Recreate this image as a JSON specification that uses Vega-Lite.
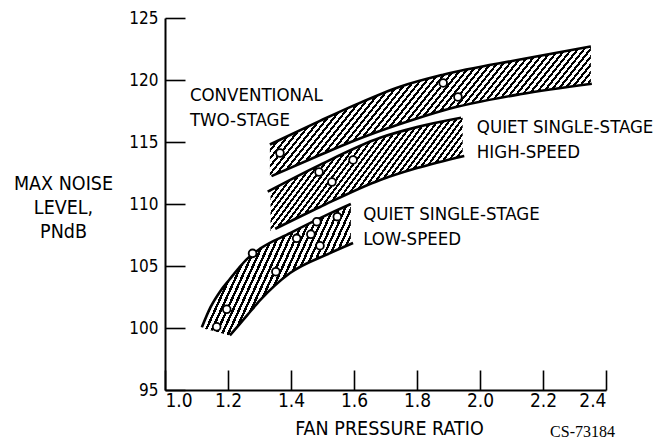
{
"$schema":"https://vega.github.io/schema/vega-lite/v6.json",
"width":441,"height":372,
"autosize":"none",
"padding":{"left":165,"top":18,"right":55,"bottom":54},
"background":"white",
"config":{"view":{"stroke":null},"font":"DejaVu Sans Condensed",
"axis":{"grid":false,"domainColor":"#000","domainWidth":2,"tickColor":"#000","tickWidth":1.6,"tickSize":-20,"labelColor":"#000","titleColor":"#000","labelFont":"DejaVu Sans Condensed","titleFont":"DejaVu Sans Condensed","titleFontWeight":"normal"}},
"params":[{"name":"hatch","value":{"gradient":"linear","x1":0,"y1":0,"x2":1,"y2":0,"stops":[
{"offset":0,"color":"#000"},{"offset":0.0065,"color":"#000"},{"offset":0.0065,"color":"#fff"},{"offset":0.015,"color":"#fff"},
{"offset":0.015,"color":"#000"},{"offset":0.0215,"color":"#000"},{"offset":0.0215,"color":"#fff"},{"offset":0.03,"color":"#fff"},
{"offset":0.03,"color":"#000"},{"offset":0.0365,"color":"#000"},{"offset":0.0365,"color":"#fff"},{"offset":0.045,"color":"#fff"},
{"offset":0.045,"color":"#000"},{"offset":0.0515,"color":"#000"},{"offset":0.0515,"color":"#fff"},{"offset":0.06,"color":"#fff"},
{"offset":0.06,"color":"#000"},{"offset":0.0665,"color":"#000"},{"offset":0.0665,"color":"#fff"},{"offset":0.075,"color":"#fff"},
{"offset":0.075,"color":"#000"},{"offset":0.0815,"color":"#000"},{"offset":0.0815,"color":"#fff"},{"offset":0.09,"color":"#fff"},
{"offset":0.09,"color":"#000"},{"offset":0.0965,"color":"#000"},{"offset":0.0965,"color":"#fff"},{"offset":0.105,"color":"#fff"},
{"offset":0.105,"color":"#000"},{"offset":0.1115,"color":"#000"},{"offset":0.1115,"color":"#fff"},{"offset":0.12,"color":"#fff"},
{"offset":0.12,"color":"#000"},{"offset":0.1265,"color":"#000"},{"offset":0.1265,"color":"#fff"},{"offset":0.135,"color":"#fff"},
{"offset":0.135,"color":"#000"},{"offset":0.1415,"color":"#000"},{"offset":0.1415,"color":"#fff"},{"offset":0.15,"color":"#fff"},
{"offset":0.15,"color":"#000"},{"offset":0.1565,"color":"#000"},{"offset":0.1565,"color":"#fff"},{"offset":0.165,"color":"#fff"},
{"offset":0.165,"color":"#000"},{"offset":0.1715,"color":"#000"},{"offset":0.1715,"color":"#fff"},{"offset":0.18,"color":"#fff"},
{"offset":0.18,"color":"#000"},{"offset":0.1865,"color":"#000"},{"offset":0.1865,"color":"#fff"},{"offset":0.195,"color":"#fff"},
{"offset":0.195,"color":"#000"},{"offset":0.2015,"color":"#000"},{"offset":0.2015,"color":"#fff"},{"offset":0.21,"color":"#fff"},
{"offset":0.21,"color":"#000"},{"offset":0.2165,"color":"#000"},{"offset":0.2165,"color":"#fff"},{"offset":0.225,"color":"#fff"},
{"offset":0.225,"color":"#000"},{"offset":0.2315,"color":"#000"},{"offset":0.2315,"color":"#fff"},{"offset":0.24,"color":"#fff"},
{"offset":0.24,"color":"#000"},{"offset":0.2465,"color":"#000"},{"offset":0.2465,"color":"#fff"},{"offset":0.255,"color":"#fff"},
{"offset":0.255,"color":"#000"},{"offset":0.2615,"color":"#000"},{"offset":0.2615,"color":"#fff"},{"offset":0.27,"color":"#fff"},
{"offset":0.27,"color":"#000"},{"offset":0.2765,"color":"#000"},{"offset":0.2765,"color":"#fff"},{"offset":0.285,"color":"#fff"},
{"offset":0.285,"color":"#000"},{"offset":0.2915,"color":"#000"},{"offset":0.2915,"color":"#fff"},{"offset":0.3,"color":"#fff"},
{"offset":0.3,"color":"#000"},{"offset":0.3065,"color":"#000"},{"offset":0.3065,"color":"#fff"},{"offset":0.315,"color":"#fff"},
{"offset":0.315,"color":"#000"},{"offset":0.3215,"color":"#000"},{"offset":0.3215,"color":"#fff"},{"offset":0.33,"color":"#fff"},
{"offset":0.33,"color":"#000"},{"offset":0.3365,"color":"#000"},{"offset":0.3365,"color":"#fff"},{"offset":0.345,"color":"#fff"},
{"offset":0.345,"color":"#000"},{"offset":0.3515,"color":"#000"},{"offset":0.3515,"color":"#fff"},{"offset":0.36,"color":"#fff"},
{"offset":0.36,"color":"#000"},{"offset":0.3665,"color":"#000"},{"offset":0.3665,"color":"#fff"},{"offset":0.375,"color":"#fff"},
{"offset":0.375,"color":"#000"},{"offset":0.3815,"color":"#000"},{"offset":0.3815,"color":"#fff"},{"offset":0.39,"color":"#fff"},
{"offset":0.39,"color":"#000"},{"offset":0.3965,"color":"#000"},{"offset":0.3965,"color":"#fff"},{"offset":0.405,"color":"#fff"},
{"offset":0.405,"color":"#000"},{"offset":0.4115,"color":"#000"},{"offset":0.4115,"color":"#fff"},{"offset":0.42,"color":"#fff"},
{"offset":0.42,"color":"#000"},{"offset":0.4265,"color":"#000"},{"offset":0.4265,"color":"#fff"},{"offset":0.435,"color":"#fff"},
{"offset":0.435,"color":"#000"},{"offset":0.4415,"color":"#000"},{"offset":0.4415,"color":"#fff"},{"offset":0.45,"color":"#fff"},
{"offset":0.45,"color":"#000"},{"offset":0.4565,"color":"#000"},{"offset":0.4565,"color":"#fff"},{"offset":0.465,"color":"#fff"},
{"offset":0.465,"color":"#000"},{"offset":0.4715,"color":"#000"},{"offset":0.4715,"color":"#fff"},{"offset":0.48,"color":"#fff"},
{"offset":0.48,"color":"#000"},{"offset":0.4865,"color":"#000"},{"offset":0.4865,"color":"#fff"},{"offset":0.495,"color":"#fff"},
{"offset":0.495,"color":"#000"},{"offset":0.5015,"color":"#000"},{"offset":0.5015,"color":"#fff"},{"offset":0.51,"color":"#fff"},
{"offset":0.51,"color":"#000"},{"offset":0.5165,"color":"#000"},{"offset":0.5165,"color":"#fff"},{"offset":0.525,"color":"#fff"},
{"offset":0.525,"color":"#000"},{"offset":0.5315,"color":"#000"},{"offset":0.5315,"color":"#fff"},{"offset":0.54,"color":"#fff"},
{"offset":0.54,"color":"#000"},{"offset":0.5465,"color":"#000"},{"offset":0.5465,"color":"#fff"},{"offset":0.555,"color":"#fff"},
{"offset":0.555,"color":"#000"},{"offset":0.5615,"color":"#000"},{"offset":0.5615,"color":"#fff"},{"offset":0.57,"color":"#fff"},
{"offset":0.57,"color":"#000"},{"offset":0.5765,"color":"#000"},{"offset":0.5765,"color":"#fff"},{"offset":0.585,"color":"#fff"},
{"offset":0.585,"color":"#000"},{"offset":0.5915,"color":"#000"},{"offset":0.5915,"color":"#fff"},{"offset":0.6,"color":"#fff"},
{"offset":0.6,"color":"#000"},{"offset":0.6065,"color":"#000"},{"offset":0.6065,"color":"#fff"},{"offset":0.615,"color":"#fff"},
{"offset":0.615,"color":"#000"},{"offset":0.6215,"color":"#000"},{"offset":0.6215,"color":"#fff"},{"offset":0.63,"color":"#fff"},
{"offset":0.63,"color":"#000"},{"offset":0.6365,"color":"#000"},{"offset":0.6365,"color":"#fff"},{"offset":0.645,"color":"#fff"},
{"offset":0.645,"color":"#000"},{"offset":0.6515,"color":"#000"},{"offset":0.6515,"color":"#fff"},{"offset":0.66,"color":"#fff"},
{"offset":0.66,"color":"#000"},{"offset":0.6665,"color":"#000"},{"offset":0.6665,"color":"#fff"},{"offset":0.675,"color":"#fff"},
{"offset":0.675,"color":"#000"},{"offset":0.6815,"color":"#000"},{"offset":0.6815,"color":"#fff"},{"offset":0.69,"color":"#fff"},
{"offset":0.69,"color":"#000"},{"offset":0.6965,"color":"#000"},{"offset":0.6965,"color":"#fff"},{"offset":0.705,"color":"#fff"},
{"offset":0.705,"color":"#000"},{"offset":0.7115,"color":"#000"},{"offset":0.7115,"color":"#fff"},{"offset":0.72,"color":"#fff"},
{"offset":0.72,"color":"#000"},{"offset":0.7265,"color":"#000"},{"offset":0.7265,"color":"#fff"},{"offset":0.735,"color":"#fff"},
{"offset":0.735,"color":"#000"},{"offset":0.7415,"color":"#000"},{"offset":0.7415,"color":"#fff"},{"offset":0.75,"color":"#fff"},
{"offset":0.75,"color":"#000"},{"offset":0.7565,"color":"#000"},{"offset":0.7565,"color":"#fff"},{"offset":0.765,"color":"#fff"},
{"offset":0.765,"color":"#000"},{"offset":0.7715,"color":"#000"},{"offset":0.7715,"color":"#fff"},{"offset":0.78,"color":"#fff"},
{"offset":0.78,"color":"#000"},{"offset":0.7865,"color":"#000"},{"offset":0.7865,"color":"#fff"},{"offset":0.795,"color":"#fff"},
{"offset":0.795,"color":"#000"},{"offset":0.8015,"color":"#000"},{"offset":0.8015,"color":"#fff"},{"offset":0.81,"color":"#fff"},
{"offset":0.81,"color":"#000"},{"offset":0.8165,"color":"#000"},{"offset":0.8165,"color":"#fff"},{"offset":0.825,"color":"#fff"},
{"offset":0.825,"color":"#000"},{"offset":0.8315,"color":"#000"},{"offset":0.8315,"color":"#fff"},{"offset":0.84,"color":"#fff"},
{"offset":0.84,"color":"#000"},{"offset":0.8465,"color":"#000"},{"offset":0.8465,"color":"#fff"},{"offset":0.855,"color":"#fff"},
{"offset":0.855,"color":"#000"},{"offset":0.8615,"color":"#000"},{"offset":0.8615,"color":"#fff"},{"offset":0.87,"color":"#fff"},
{"offset":0.87,"color":"#000"},{"offset":0.8765,"color":"#000"},{"offset":0.8765,"color":"#fff"},{"offset":0.885,"color":"#fff"},
{"offset":0.885,"color":"#000"},{"offset":0.8915,"color":"#000"},{"offset":0.8915,"color":"#fff"},{"offset":0.9,"color":"#fff"},
{"offset":0.9,"color":"#000"},{"offset":0.9065,"color":"#000"},{"offset":0.9065,"color":"#fff"},{"offset":0.915,"color":"#fff"},
{"offset":0.915,"color":"#000"},{"offset":0.9215,"color":"#000"},{"offset":0.9215,"color":"#fff"},{"offset":0.93,"color":"#fff"},
{"offset":0.93,"color":"#000"},{"offset":0.9365,"color":"#000"},{"offset":0.9365,"color":"#fff"},{"offset":1,"color":"#fff"}
]}}],
"title":{"text":"CS-73184","orient":"bottom","anchor":"end","frame":"group","font":"Liberation Serif","fontSize":16,"fontWeight":"normal","color":"#000","offset":-14,"dx":9},
"datasets":{
"bands":[
{"b":"conv","x":1.333,"lo":112.2,"hi":114.8},{"b":"conv","x":1.492,"lo":113.95,"hi":116.7},{"b":"conv","x":1.6,"lo":115.1,"hi":117.95},{"b":"conv","x":1.746,"lo":116.45,"hi":119.46},{"b":"conv","x":1.883,"lo":117.55,"hi":120.43},{"b":"conv","x":2.127,"lo":118.85,"hi":121.65},{"b":"conv","x":2.352,"lo":119.7,"hi":122.7},
{"b":"high","x":1.335,"lo":107.8,"hi":111.1},{"b":"high","x":1.492,"lo":109.76,"hi":113.16},{"b":"high","x":1.683,"lo":111.94,"hi":115.34},{"b":"high","x":1.8,"lo":112.9,"hi":116.2},{"b":"high","x":1.945,"lo":113.85,"hi":116.95},
{"b":"low","x":1.117,"lo":100.0,"hi":100.06},{"b":"low","x":1.145,"lo":99.81,"hi":101.7},{"b":"low","x":1.175,"lo":99.62,"hi":102.95},{"b":"low","x":1.206,"lo":99.41,"hi":103.95},{"b":"low","x":1.235,"lo":100.26,"hi":104.85},{"b":"low","x":1.26,"lo":101.0,"hi":105.55},{"b":"low","x":1.302,"lo":102.24,"hi":106.4},{"b":"low","x":1.397,"lo":104.43,"hi":107.65},{"b":"low","x":1.524,"lo":106.04,"hi":109.24},{"b":"low","x":1.59,"lo":106.78,"hi":110.0}
],
"edges":[
{"b":"conv","s":"hi","x":1.333,"y":114.8},{"b":"conv","s":"hi","x":1.492,"y":116.7},{"b":"conv","s":"hi","x":1.6,"y":117.95},{"b":"conv","s":"hi","x":1.746,"y":119.46},{"b":"conv","s":"hi","x":1.883,"y":120.43},{"b":"conv","s":"hi","x":2.127,"y":121.65},{"b":"conv","s":"hi","x":2.352,"y":122.7},
{"b":"conv","s":"lo","x":1.338,"y":112.25},{"b":"conv","s":"lo","x":1.492,"y":113.95},{"b":"conv","s":"lo","x":1.6,"y":115.1},{"b":"conv","s":"lo","x":1.746,"y":116.45},{"b":"conv","s":"lo","x":1.883,"y":117.55},{"b":"conv","s":"lo","x":2.127,"y":118.85},{"b":"conv","s":"lo","x":2.355,"y":119.7},
{"b":"high","s":"hi","x":1.326,"y":111.0},{"b":"high","s":"hi","x":1.492,"y":113.16},{"b":"high","s":"hi","x":1.683,"y":115.34},{"b":"high","s":"hi","x":1.8,"y":116.2},{"b":"high","s":"hi","x":1.94,"y":116.95},
{"b":"high","s":"lo","x":1.35,"y":108.0},{"b":"high","s":"lo","x":1.492,"y":109.76},{"b":"high","s":"lo","x":1.683,"y":111.94},{"b":"high","s":"lo","x":1.8,"y":112.9},{"b":"high","s":"lo","x":1.95,"y":113.88},
{"b":"low","s":"hi","x":1.117,"y":100.06},{"b":"low","s":"hi","x":1.145,"y":101.7},{"b":"low","s":"hi","x":1.175,"y":102.95},{"b":"low","s":"hi","x":1.206,"y":103.95},{"b":"low","s":"hi","x":1.235,"y":104.85},{"b":"low","s":"hi","x":1.26,"y":105.55},{"b":"low","s":"hi","x":1.302,"y":106.4},{"b":"low","s":"hi","x":1.397,"y":107.65},{"b":"low","s":"hi","x":1.524,"y":109.24},{"b":"low","s":"hi","x":1.59,"y":110.0},
{"b":"low","s":"lo","x":1.206,"y":99.41},{"b":"low","s":"lo","x":1.235,"y":100.26},{"b":"low","s":"lo","x":1.26,"y":101.0},{"b":"low","s":"lo","x":1.302,"y":102.24},{"b":"low","s":"lo","x":1.397,"y":104.43},{"b":"low","s":"lo","x":1.524,"y":106.04},{"b":"low","s":"lo","x":1.597,"y":106.85}
],
"points":[
{"x":1.365,"y":114.11},{"x":1.883,"y":119.76},{"x":1.93,"y":118.63},
{"x":1.489,"y":112.58},{"x":1.53,"y":111.77},{"x":1.597,"y":113.55},
{"x":1.164,"y":100.1},{"x":1.196,"y":101.51},{"x":1.278,"y":106.02},{"x":1.352,"y":104.54},{"x":1.418,"y":107.23},{"x":1.482,"y":108.57},{"x":1.463,"y":107.56},{"x":1.492,"y":106.64},{"x":1.547,"y":108.98}
],
"labels":[
{"x":1.079,"y":119.5,"t":"CONVENTIONAL\nTWO-STAGE"},
{"x":1.99,"y":116.9,"t":"QUIET SINGLE-STAGE\nHIGH-SPEED"},
{"x":1.629,"y":109.9,"t":"QUIET SINGLE-STAGE\nLOW-SPEED"}
]
},
"layer":[
{"data":{"name":"bands"},"transform":[{"filter":"datum.b=='conv'"}],
"mark":{"type":"area","interpolate":"monotone","fill":{"expr":"merge(hatch,{x2:1.1838,y2:0.3841})"}},
"encoding":{
"x":{"field":"x","type":"quantitative","scale":{"domain":[1,2.4],"nice":false,"zero":false},
"axis":{"values":[1,1.2,1.4,1.6,1.8,2,2.2,2.4],"format":".1f","labelFontSize":19,"labelPadding":21,"title":"FAN PRESSURE RATIO","titleFontSize":19.5,"titleX":224,"titleY":29,"titleAlign":"center","titleBaseline":"top"}},
"y":{"field":"lo","type":"quantitative","scale":{"domain":[95,125],"nice":false,"zero":false},
"axis":{"values":[95,100,105,110,115,120,125],"format":"d","labelFontSize":17,"labelPadding":27,"title":["MAX NOISE","LEVEL,","PNdB"],"titleFontSize":19.5,"titleAngle":0,"titleAlign":"center","titleBaseline":"top","titleX":-102,"titleY":156,"titleLineHeight":24}},
"y2":{"field":"hi"}}},
{"data":{"name":"bands"},"transform":[{"filter":"datum.b=='high'"}],
"mark":{"type":"area","interpolate":"monotone","fill":{"expr":"merge(hatch,{x2:1.6886,y2:0.7387})"}},
"encoding":{"x":{"field":"x","type":"quantitative"},"y":{"field":"lo","type":"quantitative"},"y2":{"field":"hi"}}},
{"data":{"name":"bands"},"transform":[{"filter":"datum.b=='low'"}],
"mark":{"type":"area","interpolate":"monotone","fill":{"expr":"merge(hatch,{x2:2.3134,y2:0.9266})"}},
"encoding":{"x":{"field":"x","type":"quantitative"},"y":{"field":"lo","type":"quantitative"},"y2":{"field":"hi"}}},
{"data":{"name":"edges"},
"mark":{"type":"line","interpolate":"monotone","color":"#000","strokeWidth":2.6},
"encoding":{"x":{"field":"x","type":"quantitative"},"y":{"field":"y","type":"quantitative"},"detail":[{"field":"b","type":"nominal"},{"field":"s","type":"nominal"}]}},
{"data":{"name":"points"},
"mark":{"type":"point","shape":"circle","filled":true,"fill":"#fff","stroke":"#000","strokeWidth":1.8,"size":60,"opacity":1},
"encoding":{"x":{"field":"x","type":"quantitative"},"y":{"field":"y","type":"quantitative"}}},
{"data":{"name":"labels"},
"mark":{"type":"text","align":"left","baseline":"top","lineBreak":"\n","fontSize":18.5,"lineHeight":25,"color":"#000"},
"encoding":{"x":{"field":"x","type":"quantitative"},"y":{"field":"y","type":"quantitative"},"text":{"field":"t"}}}
]
}
